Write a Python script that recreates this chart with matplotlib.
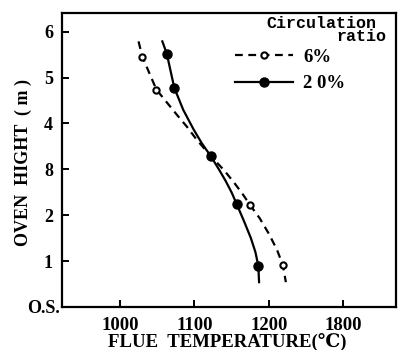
import matplotlib
matplotlib.use('Agg')
import matplotlib.pyplot as plt
import matplotlib.transforms as mtransforms

# measured points (flue temperature, oven height)
temp_6 = [1030, 1049, 1122, 1175, 1219]
hight_6 = [5.46, 4.74, 3.29, 2.22, 0.91]
temp_20 = [1063, 1073, 1122, 1157, 1186]
hight_20 = [5.52, 4.78, 3.29, 2.24, 0.90]

# hand drawn curves
curve_t_6 = [1025, 1030, 1040, 1049, 1062, 1076, 1090, 1103, 1122, 1140, 1153, 1165, 1175, 1188, 1200, 1211, 1219, 1223]
curve_h_6 = [5.79, 5.46, 5.08, 4.74, 4.48, 4.20, 3.93, 3.65, 3.29, 2.98, 2.72, 2.46, 2.22, 1.93, 1.60, 1.25, 0.91, 0.54]
curve_t_20 = [1057, 1063, 1068, 1073, 1085, 1099, 1110, 1122, 1133, 1142, 1150, 1157, 1167, 1176, 1182, 1186, 1187]
curve_h_20 = [5.79, 5.52, 5.15, 4.78, 4.30, 3.87, 3.57, 3.29, 3.00, 2.75, 2.50, 2.24, 1.86, 1.50, 1.20, 0.90, 0.54]

x_ticks = [1000, 1100, 1200, 1300]
x_labels = ['1000', '1100', '1200', '1800']
y_ticks = [0, 1, 2, 3, 4, 5, 6]
y_labels = ['O.S.', '1', '2', '8', '4', '5', '6']

serif = ['Liberation Serif', 'DejaVu Serif']
plt.rcParams['font.family'] = serif
plt.rcParams['font.weight'] = 'bold'

fig = plt.figure(figsize=(4.02, 3.5), dpi=100)
ax = fig.add_axes([0.154, 0.123, 0.831, 0.84])

ax.plot(curve_t_6, curve_h_6, color='black', lw=1.6, ls=(0, (3.5, 2.5)))
ax.plot(curve_t_20, curve_h_20, color='black', lw=1.6)
ax.plot(temp_6, hight_6, 'o', color='black', mfc='white', mec='black', mew=1.5, ms=4.5)
ax.plot(temp_20, hight_20, 'o', color='black', ms=6.5)

# legend
h6, = ax.plot([], [], color='black', lw=1.6, ls=(0, (3.5, 2.5)),
              marker='o', mfc='white', mec='black', mew=1.5, ms=4.5)
h20, = ax.plot([], [], color='black', lw=1.6, marker='o', ms=6.5)
leg = ax.legend([h6, h20], ['6%', '2 0%'], loc='upper left',
                bbox_to_anchor=(0.518, 0.878), frameon=False, borderpad=0,
                borderaxespad=0, handlelength=3.1, handletextpad=0.55,
                labelspacing=0.5, prop={'family': serif, 'weight': 'bold', 'size': 13.5})
ax.text(0.94, 0.964, 'Circulation', transform=ax.transAxes, ha='right', va='center',
        family='Liberation Mono', weight='bold', fontsize=12)
ax.text(0.97, 0.920, 'ratio', transform=ax.transAxes, ha='right', va='center',
        family='Liberation Mono', weight='bold', fontsize=12)

ax.set_xlim(922, 1371)
ax.set_ylim(0, 6.41)
ax.set_xticks(x_ticks)
ax.set_xticklabels(x_labels)
ax.set_yticks(y_ticks)
ax.set_yticklabels(y_labels)
ax.tick_params(direction='in', length=5, width=1.4, labelsize=13)
ax.tick_params(axis='x', pad=7.5, labelsize=13.5)
ax.tick_params(axis='y', pad=6.5)
for s in ax.spines.values():
    s.set_linewidth(1.6)

# O.S. sits closer to the axis than the digits
os_label = ax.get_yticklabels()[0]
os_label.set_transform(os_label.get_transform() +
                       mtransforms.ScaledTranslation(5 / 72, 0, fig.dpi_scale_trans))

ax.set_xlabel('FLUE  TEMPERATURE(℃)', fontsize=13.5, weight='bold')
ax.xaxis.set_label_coords(0.495, -0.088)
ax.set_ylabel('OVEN  HIGHT  ( m )', fontsize=13, weight='bold')
ax.yaxis.set_label_coords(-0.09, 0.49)

fig.savefig('out.png', dpi=100)
